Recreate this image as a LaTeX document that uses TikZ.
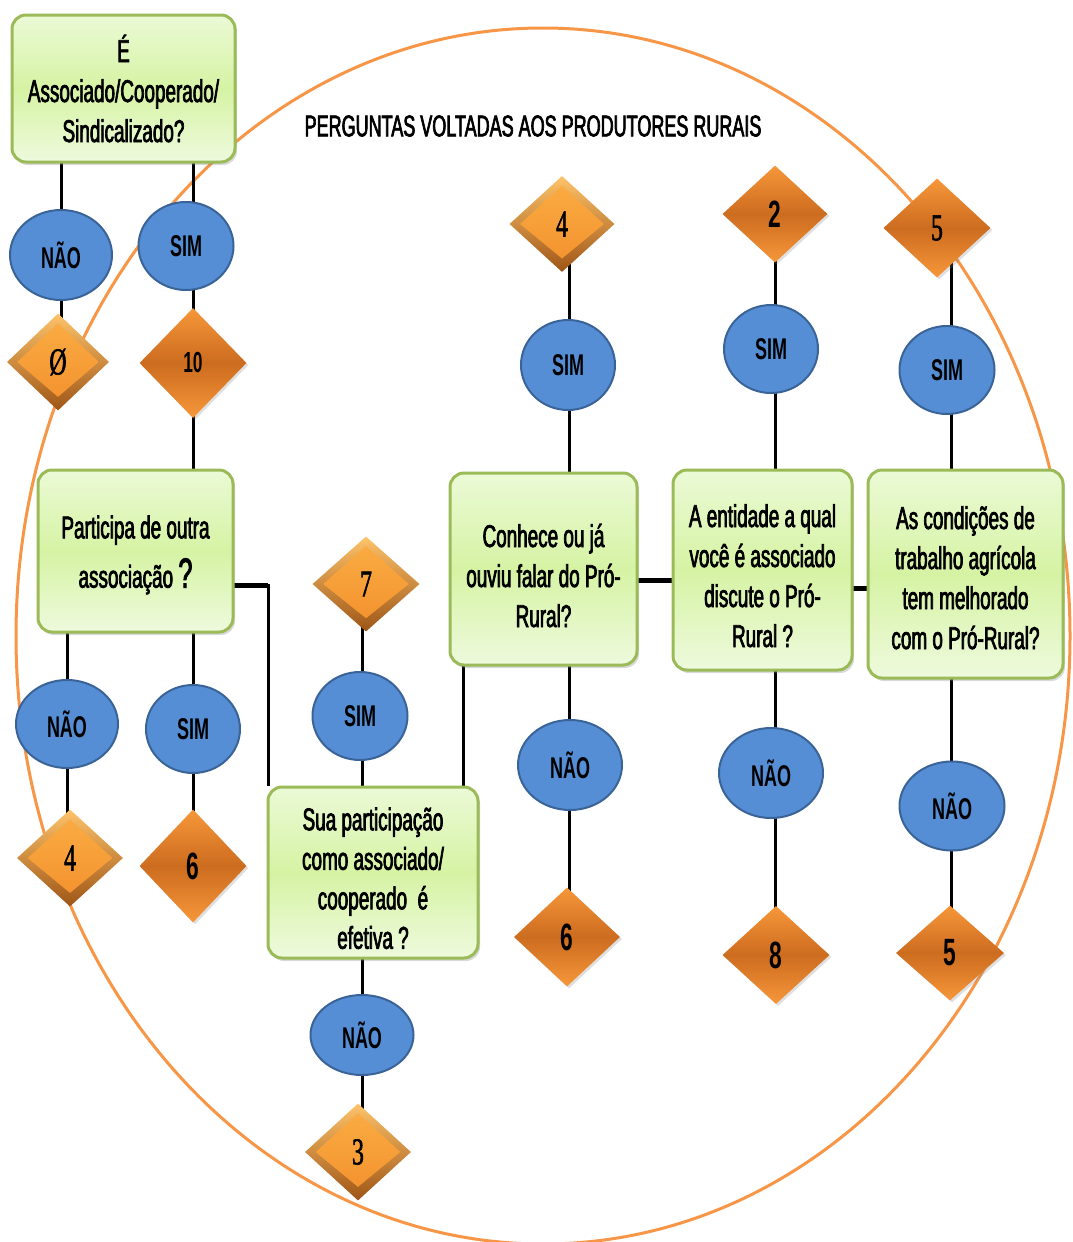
\documentclass[tikz,border=0pt]{standalone}
\usepackage{fontspec}
\setmainfont{Liberation Sans}[FakeStretch=0.6]
\newfontfamily\boxfont{Liberation Sans}[FakeStretch=0.6,FakeBold=2.2]
\newfontfamily\numserif{Liberation Serif}[FakeStretch=0.62,FakeBold=1.5]
\usetikzlibrary{shapes.geometric,shadows,calc}
\definecolor{boxline}{HTML}{9BBB59}
\definecolor{boxtop}{HTML}{EBFAD6}
\definecolor{boxmid}{HTML}{D6F3A4}
\definecolor{boxbot}{HTML}{EEFADD}
\definecolor{ellfill}{HTML}{558ED5}
\definecolor{ellline}{HTML}{3A6397}
\definecolor{dlight}{HTML}{F7973A}
\definecolor{ddark}{HTML}{CC6C1F}
\definecolor{bevhi}{HTML}{FDC36A}
\definecolor{bevlo}{HTML}{9E5516}
\definecolor{bevtop}{HTML}{FBAE45}
\definecolor{bevbot}{HTML}{F28F2C}
\definecolor{ringcol}{HTML}{F79646}
\newcommand{\shiftdown}[2]{\raisebox{-#1}[\height][\depth]{\begin{tabular}{@{}c@{}}#2\end{tabular}}}
\pgfdeclarelayer{bg}
\pgfsetlayers{bg,main}
\begin{document}
\begin{tikzpicture}[x=1pt,y=-1pt,
  qbox/.style={rectangle, rounded corners=14pt, draw=boxline, line width=3pt,
    top color=boxtop, bottom color=boxbot, middle color=boxmid,
    align=center, inner sep=0pt,
    font=\boxfont\fontsize{31.5}{40}\selectfont,
    drop shadow={opacity=0.3, shadow xshift=2pt, shadow yshift=-3pt}},
  yn/.style={ellipse, draw=ellline, line width=2pt, fill=ellfill, inner sep=0pt,
    font=\bfseries\fontsize{30}{30}\selectfont},
  dflat/.style={diamond, aspect=1, inner sep=0pt, draw=none,
    top color=dlight, bottom color=dlight, middle color=ddark,
    drop shadow={opacity=0.25, shadow xshift=2pt, shadow yshift=-2pt}},
  dbevel/.style={diamond, aspect=1, inner sep=0pt, draw=none,
    top color=bevhi, bottom color=bevlo,
    path picture={
      \shade[top color=bevtop, bottom color=bevbot]
        ($(path picture bounding box.north)!0.2!(path picture bounding box.center)$) --
        ($(path picture bounding box.east)!0.2!(path picture bounding box.center)$) --
        ($(path picture bounding box.south)!0.28!(path picture bounding box.center)$) --
        ($(path picture bounding box.west)!0.2!(path picture bounding box.center)$) -- cycle;
    }},
  bignum/.style={font=\bfseries\fontsize{38}{38}\selectfont},
  midnum/.style={font=\bfseries\fontsize{29}{29}\selectfont},
  sernum/.style={font=\numserif\fontsize{38}{38}\selectfont},
  conn/.style={draw=black, line width=3pt},
  thickconn/.style={draw=black, line width=5pt},
  ring/.style={draw=ringcol, line width=3pt}
]
\useasboundingbox (0,0) rectangle (1072,1242);

% title
\node (title) at (533,126) {\boxfont\fontsize{30}{30}\selectfont PERGUNTAS VOLTADAS AOS PRODUTORES RURAIS};

% question boxes
\node[qbox, minimum width=223pt, minimum height=147pt] (q1) at (123.5,88.5)
  {É\\Associado/Cooperado/\\Sindicalizado?};
\node[qbox, minimum width=195pt, minimum height=162pt] (q2) at (135.5,551)
  {\shiftdown{4pt}{Participa de outra\\[8pt]associação {\fontsize{42}{42}\selectfont ?}}};
\node[qbox, minimum width=210pt, minimum height=171pt] (q3) at (373,872.5)
  {\shiftdown{9pt}{Sua participação\\[-0.5pt]como associado/\\[-0.5pt]cooperado \ é\\[-0.5pt]efetiva ?}};
\node[qbox, minimum width=187pt, minimum height=192pt] (q4) at (543.5,569)
  {\shiftdown{10pt}{Conhece ou já\\ouviu falar do Pró-\\Rural?}};
\node[qbox, minimum width=179pt, minimum height=200pt] (q5) at (762.5,570)
  {\shiftdown{9pt}{A entidade a qual\\você é associado\\discute o Pró-\\Rural ?}};
\node[qbox, minimum width=195pt, minimum height=208pt] (q6) at (965.5,574)
  {\shiftdown{7pt}{As condições de\\trabalho agrícola\\tem melhorado\\com o Pró-Rural?}};

% yes/no ellipses
\node[yn, minimum width=102pt, minimum height=90pt] (a1) at (61,255) {NÃO};
\node[yn, minimum width=95pt, minimum height=88pt] (a2) at (186,246) {SIM};
\node[yn, minimum width=102pt, minimum height=88pt] (a3) at (67,724) {NÃO};
\node[yn, minimum width=94pt, minimum height=88pt] (a4) at (193,729) {SIM};
\node[yn, minimum width=95pt, minimum height=88pt] (a5) at (360,716) {SIM};
\node[yn, minimum width=103pt, minimum height=80pt] (a6) at (362,1035) {NÃO};
\node[yn, minimum width=94pt, minimum height=90pt] (a7) at (568,365) {SIM};
\node[yn, minimum width=104pt, minimum height=90pt] (a8) at (570,765) {NÃO};
\node[yn, minimum width=94pt, minimum height=88pt] (a9) at (771,349) {SIM};
\node[yn, minimum width=104pt, minimum height=90pt] (a10) at (771,773) {NÃO};
\node[yn, minimum width=95pt, minimum height=88pt] (a11) at (947,370) {SIM};
\node[yn, minimum width=105pt, minimum height=89pt] (a12) at (952,806) {NÃO};

% diamonds
\node[dbevel, sernum, minimum width=102pt, minimum height=97pt] (d1) at (58,362) {Ø};
\node[dflat, midnum, minimum width=107pt, minimum height=110pt] (d2) at (193,363) {10};
\node[dbevel, sernum, minimum width=106pt, minimum height=97pt] (d3) at (70,858) {4};
\node[dflat, bignum, minimum width=107pt, minimum height=113pt] (d4) at (193,866) {6};
\node[dbevel, sernum, minimum width=107pt, minimum height=95pt] (d5) at (366,584) {7};
\node[dbevel, sernum, minimum width=106pt, minimum height=97pt] (d6) at (358,1152) {3};
\node[dbevel, sernum, minimum width=105pt, minimum height=96pt] (d7) at (562,224) {4};
\node[dflat, bignum, minimum width=106pt, minimum height=99pt] (d8) at (567,937) {6};
\node[dflat, bignum, minimum width=105pt, minimum height=97pt] (d9) at (775,214) {2};
\node[dflat, bignum, minimum width=107pt, minimum height=98pt] (d10) at (776,955) {8};
\node[dflat, sernum, minimum width=107pt, minimum height=99pt] (d11) at (937,228) {5};
\node[dflat, bignum, minimum width=108pt, minimum height=95pt] (d12) at (950,953) {5};

% junction coordinates
\coordinate (j1) at (268,585);
\coordinate (j2) at (463,700);
\coordinate (hA) at (655,580);
\coordinate (hB) at (860,588);
\coordinate (xB) at (193,0);
\coordinate (xE) at (362,0);
\coordinate (xF) at (569,0);
\coordinate (xG) at (775,0);
\coordinate (xH) at (951,0);

\begin{pgfonlayer}{bg}
\draw[ring] (543,636) ellipse [x radius=527pt, y radius=608pt];
% column A
\draw[conn] (a1.center |- q1.center) -- (a1.center |- d1.center);
% column B
\draw[conn] (xB |- q1.center) -- (xB |- q2.center);
% column C
\draw[conn] (a3.center |- q2.center) -- (a3.center |- d3.center);
% column D
\draw[conn] (xB |- q2.center) -- (xB |- d4.center);
% Participa -> Sua
\draw[conn] (q2.center |- j1) -- (j1) -- (j1 |- q3.north);
\draw[thickconn] (q2.center |- j1) -- (j1);
% column E
\draw[conn] (xE |- d5.center) -- (xE |- d6.center);
% Sua -> Conhece
\draw[conn] (j2 |- q4.center) -- (j2 |- q3.center);
% column F
\draw[conn] (xF |- d7.center) -- (xF |- d8.center);
% Conhece -> Entidade
\draw[thickconn] (q4.center |- hA) -- (q5.center |- hA);
% column G
\draw[conn] (xG |- d9.center) -- (xG |- d10.center);
% Entidade -> Condicoes
\draw[thickconn] (q5.center |- hB) -- (q6.center |- hB);
% column H
\draw[conn] (xH |- d11.center) -- (xH |- d12.center);
\end{pgfonlayer}
\end{tikzpicture}
\end{document}
